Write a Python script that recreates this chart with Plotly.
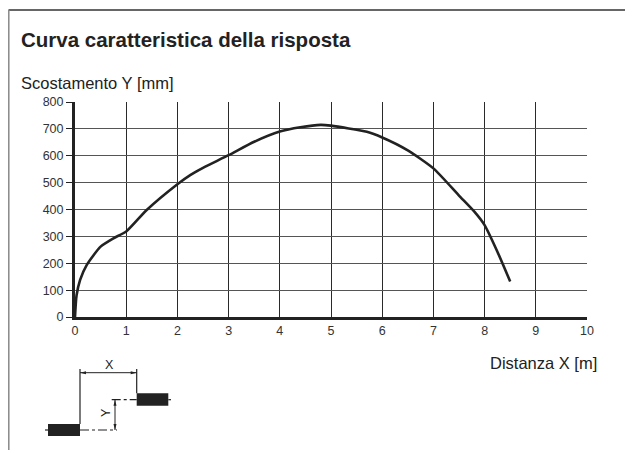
import plotly.graph_objects as go

# Data
distance_m = [0, 0.03, 0.1, 0.23, 0.5, 0.75, 1.0, 1.4, 2.0, 2.25, 2.5, 3.0, 3.5, 4.0, 4.4, 4.8,
              5.0, 5.7, 6.0, 6.5, 7.0, 7.5, 7.8, 8.0, 8.25, 8.5]
offset_mm = [0, 80, 138, 194, 262, 293, 318, 398, 494, 528, 555, 602, 652, 690, 706, 715,
             712, 689, 668, 620, 553, 452, 392, 342, 243, 132]
x_ticks = list(range(0, 11))
y_ticks = list(range(0, 801, 100))

title_text = "Curva caratteristica della risposta"
y_label = "Scostamento Y [mm]"
x_label = "Distanza X [m]"

# the page body has an 8px margin; work in screen pixels and convert
OFF = 8
W, H = 633, 442
L, R, T, B = 67, 54, 94, 133
PW, PH = W - L - R, H - T - B

def px(x):
    return (x - OFF - L) / PW

def py(y):
    return (H - B - (y - OFF)) / PH

FONT = "Liberation Sans, Arial, Helvetica, sans-serif"
INK = "#222222"

fig = go.Figure()
fig.add_trace(go.Scatter(x=distance_m, y=offset_mm, mode="lines",
                         line=dict(color=INK, width=2.6, shape="spline", smoothing=0.6),
                         hoverinfo="skip", showlegend=False))

shapes = []
# frame (top and left)
shapes.append(dict(type="line", xref="paper", yref="paper", x0=px(8.5), x1=px(W + OFF), y0=py(10), y1=py(10),
                   line=dict(color="#333333", width=1.5)))
shapes.append(dict(type="line", xref="paper", yref="paper", x0=px(8.8), x1=px(8.8), y0=py(10), y1=py(H + OFF),
                   line=dict(color="#888888", width=1.5)))

def line(x0, y0, x1, y1, w=1.2, dash=None, color=INK):
    d = dict(color=color, width=w)
    if dash:
        d["dash"] = dash
    shapes.append(dict(type="line", xref="paper", yref="paper", x0=px(x0), x1=px(x1),
                       y0=py(y0), y1=py(y1), line=d))

def rect(x0, y0, x1, y1):
    shapes.append(dict(type="rect", xref="paper", yref="paper", x0=px(x0), x1=px(x1),
                       y0=py(y0), y1=py(y1), fillcolor=INK, line=dict(width=0)))

def tri(pts):
    path = "M " + " L ".join(f"{px(a)},{py(b)}" for a, b in pts) + " Z"
    shapes.append(dict(type="path", xref="paper", yref="paper", path=path,
                       fillcolor=INK, line=dict(width=0)))

# sensor diagram
rect(48, 424, 80, 436)
rect(136.7, 393.3, 168.3, 405.7)
line(45, 430, 48, 430)
line(80, 430, 117, 430, dash="dashdot")
line(111.7, 399.7, 136.7, 399.7, dash="dashdot")
line(168.3, 399.7, 171, 399.7)
line(80, 369, 80, 424)
line(136.7, 369, 136.7, 393.3)
line(80, 372.7, 136.7, 372.7, w=1)
tri([(80, 372.7), (86, 371.2), (86, 374.2)])
tri([(136.7, 372.7), (130.7, 371.2), (130.7, 374.2)])
line(115, 399.7, 115, 430, w=1)
tri([(115, 399.7), (113.5, 405.7), (116.5, 405.7)])
tri([(115, 430), (113.5, 424), (116.5, 424)])

annotations = [
    dict(text=f"<b>{title_text}</b>", x=px(18.5), y=py(39.5), xref="paper", yref="paper",
         xanchor="left", yanchor="middle", showarrow=False,
         font=dict(family=FONT, size=20.5, color=INK)),
    dict(text=y_label, x=px(18.5), y=py(82.5), xref="paper", yref="paper",
         xanchor="left", yanchor="middle", showarrow=False,
         font=dict(family=FONT, size=16.5, color=INK)),
    dict(text=x_label, x=px(598.5), y=py(363), xref="paper", yref="paper",
         xanchor="right", yanchor="middle", showarrow=False,
         font=dict(family=FONT, size=16.5, color=INK)),
    dict(text="X", x=px(109), y=py(365), xref="paper", yref="paper",
         xanchor="center", yanchor="middle", showarrow=False,
         font=dict(family=FONT, size=12.5, color=INK)),
    dict(text="Y", x=px(106), y=py(413), xref="paper", yref="paper",
         xanchor="center", yanchor="middle", showarrow=False, textangle=-90,
         font=dict(family=FONT, size=12.5, color=INK)),
]

fig.update_layout(
    width=W, height=H, margin=dict(l=L, r=R, t=T, b=B, pad=0),
    paper_bgcolor="white", plot_bgcolor="white",
    shapes=shapes, annotations=annotations, showlegend=False,
    xaxis=dict(range=[0, 10], tickvals=x_ticks, ticktext=[str(v) for v in x_ticks],
               showgrid=True, gridcolor="#2a2a2a", gridwidth=1.4,
               showline=True, linecolor=INK, linewidth=3, zeroline=False,
               ticks="", tickfont=dict(family=FONT, size=12.5, color="#333333"),
               fixedrange=True),
    yaxis=dict(range=[0, 800], tickvals=y_ticks, ticktext=[str(v) for v in y_ticks],
               showgrid=True, gridcolor="#555555", gridwidth=1.4,
               showline=True, linecolor=INK, linewidth=3, zeroline=False,
               ticks="outside", ticklen=6, tickwidth=1.2, tickcolor=INK,
               tickfont=dict(family=FONT, size=12.5, color="#333333"),
               fixedrange=True),
)

fig.write_html("out.html")
